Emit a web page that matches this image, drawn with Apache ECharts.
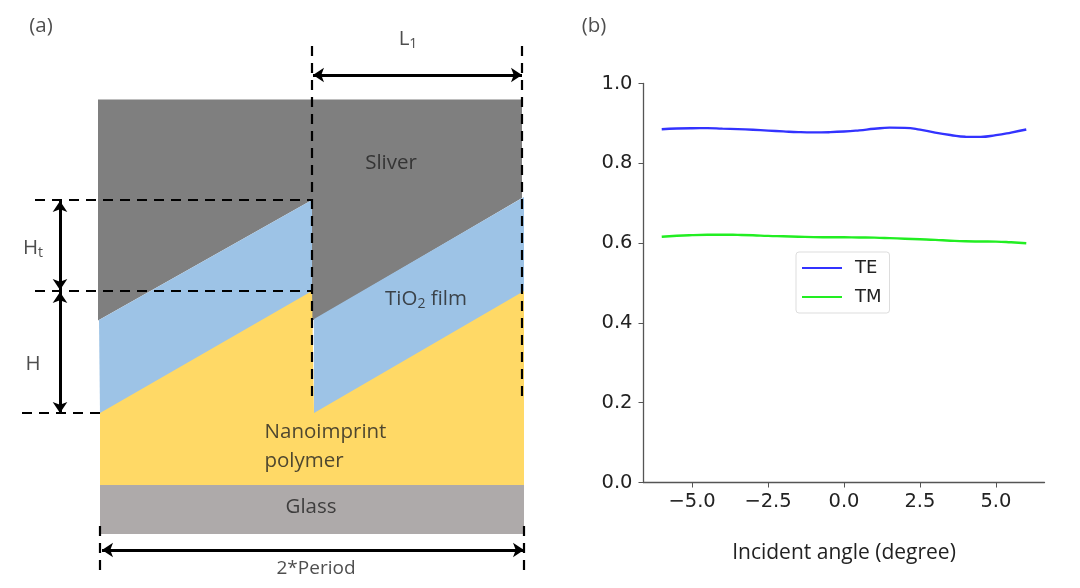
<!DOCTYPE html>
<html><head><meta charset="utf-8">
<style>html,body{margin:0;padding:0;background:#fff}#c{width:1080px;height:588px}</style>
<script src="https://cdn.jsdelivr.net/npm/echarts@6/dist/echarts.min.js"></script>
</head><body><div id="c"></div>
<script>
// Panel (b) values
const angles = [-6,-5.5,-5,-4.5,-4,-3.5,-3,-2.5,-2,-1.5,-1,-0.5,0,0.5,1,1.5,2,2.5,3,3.5,4,4.5,5,5.5,6];
const teValues = [0.8855,0.8872,0.888,0.8882,0.887,0.8857,0.884,0.882,0.880,0.8782,0.8775,0.878,0.8796,0.8826,0.8865,0.8893,0.8888,0.8845,0.877,0.871,0.8665,0.8663,0.8705,0.877,0.8846];
const tmValues = [0.616,0.6185,0.620,0.6208,0.621,0.6205,0.6196,0.618,0.617,0.616,0.615,0.6147,0.6145,0.6141,0.6137,0.6125,0.611,0.6095,0.608,0.606,0.6045,0.604,0.6037,0.602,0.5995];
const xTicks = [-5,-2.5,0,2.5,5];
// Panel (a) schematic outlines, in schematic units
const silverShape = [[98,99.5],[522,99.5],[522,198],[314,320],[312,320],[312,200],[98,320.5]];
const blueLeft = [[99,320],[312,200],[312,292],[100,414]];
const blueRight = [[314,319],[524,197],[524,292],[314,414]];
const polymerShape = [[100,413],[312,291],[314,413],[524,291],[524,485.5],[100,485.5]];
const glassShape = [[100,485],[524,485],[524,534],[100,534]];
const dashedGuides = [
  [[312,46],[312,402]],[[522,46],[522,402]],
  [[35,200],[312,200]],[[35,291],[312,291]],[[22,413],[100,413]],
  [[100,526],[100,570]],[[524,526],[524,570]]
];
const arrows = [[[313,75],[522,75]],[[102,550],[524,550]],[[60,201],[60,290]],[[60,292],[60,413]]];
const schematicLabels = [
  [41,26,'(a)'],[594,26,'(b)'],[408,39,'L{s|1}'],[391,163,'Sliver'],[33,248,'H{s|t}'],
  [426,299,'TiO{s|2} film'],[33,364,'H'],[325.5,432,'Nanoimprint'],[304,461,'polymer'],
  [311,507,'Glass'],[316,569,'{p|2*Period}']
];

const poly = (pts,color)=>({
  type:'custom',xAxisIndex:0,yAxisIndex:0,silent:true,clip:false,
  data:pts,
  renderItem(p,api){
    if(p.dataIndex!==0) return {type:'group',children:[]};
    return {type:'polygon',shape:{points:pts.map(q=>api.coord(q))},style:{fill:color}};
  }
});
const axisColor='#555', textColor='#222';
const chart = echarts.init(document.getElementById('c'),null,{renderer:'canvas'});
chart.setOption({
  animation:false,
  backgroundColor:'#fff',
  textStyle:{fontFamily:'Open Sans'},
  grid:[
    {left:0,top:0,width:1080,height:588},
    {left:643.5,top:83.5,width:401,height:399}
  ],
  xAxis:[
    {type:'value',gridIndex:0,min:0,max:1080,show:false},
    {type:'value',gridIndex:1,min:-6.6,max:6.6,
     splitLine:{show:false},
     axisLine:{onZero:false,lineStyle:{color:axisColor,width:1.3}},
     axisTick:{customValues:xTicks,length:5,lineStyle:{color:axisColor}},
     axisLabel:{customValues:xTicks,margin:9,fontSize:19.5,fontFamily:'DejaVu Sans',color:textColor,
       formatter:v=>v.toFixed(1).replace('-','\u2212')},
     name:'Incident angle (degree)',nameLocation:'middle',nameGap:60,
     nameTextStyle:{fontSize:21,color:textColor,fontFamily:'Open Sans'}}
  ],
  yAxis:[
    {type:'value',gridIndex:0,min:0,max:588,inverse:true,show:false},
    {type:'value',gridIndex:1,min:0,max:1,interval:0.2,
     splitLine:{show:false},
     axisLine:{show:true,onZero:false,lineStyle:{color:axisColor,width:1.3}},
     axisTick:{show:true,length:5,lineStyle:{color:axisColor}},
     axisLabel:{margin:11,fontSize:19.5,fontFamily:'DejaVu Sans',color:textColor,padding:[2,0,0,0],formatter:v=>v.toFixed(1)}}
  ],
  legend:{
    left:796,top:252,orient:'vertical',
    data:[{name:'TE',icon:'rect'},{name:'TM',icon:'rect'}],
    itemWidth:40,itemHeight:2,itemGap:11,padding:[7,8,7,6],
    borderColor:'#ddd',borderWidth:1,borderRadius:3,backgroundColor:'#fff',
    textStyle:{fontSize:18,color:textColor,fontFamily:'DejaVu Sans',padding:[0,0,0,8]}
  },
  series:[
    poly(silverShape,'#7f7f7f'),poly(blueLeft,'#9dc3e6'),poly(blueRight,'#9dc3e6'),
    poly(polymerShape,'#ffd966'),poly(glassShape,'#aeaaaa'),
    {type:'lines',coordinateSystem:'cartesian2d',xAxisIndex:0,yAxisIndex:0,silent:true,z:5,
     data:dashedGuides.map(c=>({coords:c})),
     lineStyle:{color:'#000',width:2.2,type:[10,7],opacity:1,curveness:0}},
    {type:'lines',coordinateSystem:'cartesian2d',xAxisIndex:0,yAxisIndex:0,silent:true,z:6,
     data:arrows.map(c=>({coords:c})),symbol:['arrow','arrow'],symbolSize:11,
     lineStyle:{color:'#000',width:3,opacity:1,curveness:0}},
    {type:'scatter',xAxisIndex:0,yAxisIndex:0,silent:true,symbolSize:0,z:7,
     data:schematicLabels.map(l=>({value:[l[0],l[1]],label:{formatter:l[2]}})),
     label:{show:true,position:'inside',align:'center',verticalAlign:'middle',color:textColor,
       fontFamily:'Open Sans',fontSize:20.5,
       rich:{s:{fontSize:14,color:textColor,fontFamily:'Open Sans',padding:[10,0,0,0]},
             p:{fontSize:19,color:textColor,fontFamily:'Open Sans'}}}},
    {name:'TE',type:'line',xAxisIndex:1,yAxisIndex:1,data:angles.map((a,i)=>[a,teValues[i]]),
     smooth:0.5,symbol:'none',lineStyle:{color:'#3333ff',width:2.4},itemStyle:{color:'#3333ff'}},
    {name:'TM',type:'line',xAxisIndex:1,yAxisIndex:1,data:angles.map((a,i)=>[a,tmValues[i]]),
     smooth:0.5,symbol:'none',lineStyle:{color:'#22ee22',width:2.4},itemStyle:{color:'#22ee22'}}
  ]
});
</script></body></html>
